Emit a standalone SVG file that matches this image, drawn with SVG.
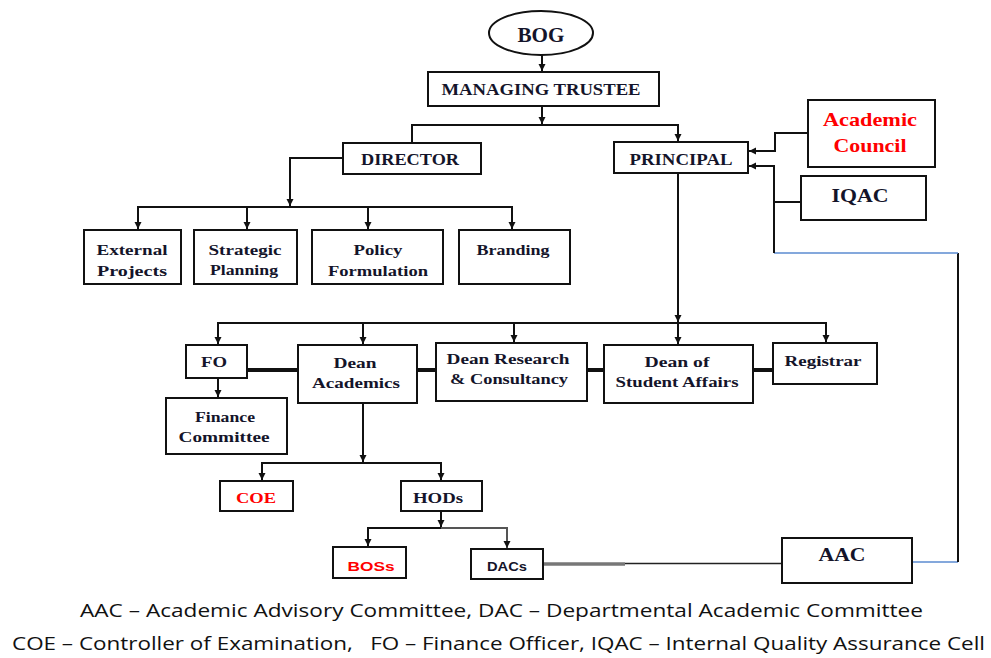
<svg xmlns="http://www.w3.org/2000/svg" width="991" height="658" viewBox="0 0 991 658">
<defs>
<marker id="arr" markerUnits="userSpaceOnUse" markerWidth="8" markerHeight="8" refX="7" refY="4" orient="auto">
<path d="M0,0.5 L7,4 L0,7.5 Z" fill="#111"/>
</marker>
<style>
.box{fill:#fff;stroke:#111;stroke-width:2}
.t{font-family:"Liberation Serif","Times New Roman",serif;font-weight:bold;fill:#14142a;text-anchor:middle}
.red{fill:#ff0000}
.s{font-family:"Liberation Sans",Arial,sans-serif;font-weight:bold;text-anchor:middle}
.ln{fill:none;stroke:#111;stroke-width:2}
.thick{fill:none;stroke:#111;stroke-width:4}
.lg{font-family:"Open Sans","Liberation Sans",sans-serif;fill:#111;font-size:18px;text-anchor:start}
</style>
</defs>
<rect width="991" height="658" fill="#fff"/>

<g id="connectors">
<path class="ln" d="M542,55 V71" marker-end="url(#arr)"/>
<path class="ln" d="M542,106 V124" marker-end="url(#arr)"/>
<path class="ln" d="M412,143 V125 H678 V141" marker-end="url(#arr)"/>
<path class="ln" d="M343,158 H290 V206" marker-end="url(#arr)"/>
<path class="ln" d="M138,229 V207 H512 V229" marker-end="url(#arr)"/>
<path class="ln" d="M138,207 V229" marker-end="url(#arr)"/>
<path class="ln" d="M247,207 V229" marker-end="url(#arr)"/>
<path class="ln" d="M368,207 V229" marker-end="url(#arr)"/>
<path class="ln" d="M678,173 V322" marker-end="url(#arr)"/>
<path class="ln" d="M218,344 V323 H826 V342" marker-end="url(#arr)"/>
<path class="ln" d="M218,323 V344" marker-end="url(#arr)"/>
<path class="ln" d="M363,323 V344" marker-end="url(#arr)"/>
<path class="ln" d="M514,323 V342" marker-end="url(#arr)"/>
<path class="ln" d="M678,323 V344" marker-end="url(#arr)"/>
<path class="thick" d="M247,370 H298 M417,370 H436 M587,370 H604 M753,370 H773"/>
<path class="ln" d="M218,378 V397" marker-end="url(#arr)"/>
<path class="ln" d="M363,403 V462" marker-end="url(#arr)"/>
<path class="ln" d="M262,480 V463 H441 V480" marker-end="url(#arr)"/>
<path class="ln" d="M262,463 V480" marker-end="url(#arr)"/>
<path class="ln" d="M441,511 V527" marker-end="url(#arr)"/>
<path class="ln" d="M441,528 H368 V546" marker-end="url(#arr)"/>
<path fill="none" stroke="#555" stroke-width="2" d="M441,528 H507 V548" marker-end="url(#arr)"/>
<path fill="none" stroke="#777" stroke-width="3.5" d="M543,564 H625"/>
<path fill="none" stroke="#222" stroke-width="1.5" d="M625,563.5 H782"/>
<path fill="none" stroke="#5b8bd0" stroke-width="1.5" d="M912,562 H958"/>
<path class="ln" d="M958,562 V253"/>
<path fill="none" stroke="#5b8bd0" stroke-width="1.5" d="M958,253 H774"/>
<path class="ln" d="M774,253 V166 H749" marker-end="url(#arr)"/>
<path class="ln" d="M801,202 H774"/>
<path class="ln" d="M808,133 H775 V151 H749" marker-end="url(#arr)"/>
</g>

<g id="bog"><ellipse cx="541" cy="33" rx="52" ry="22" fill="#fff" stroke="#111" stroke-width="2"/><text class="t" x="541" y="42" font-size="21" textLength="47" lengthAdjust="spacingAndGlyphs">BOG</text></g>
<g id="managing-trustee"><rect class="box" x="428" y="72" width="231" height="34"/><text class="t" x="541" y="95" font-size="17" textLength="199" lengthAdjust="spacingAndGlyphs">MANAGING TRUSTEE</text></g>
<g id="director"><rect class="box" x="343" y="143" width="138" height="31"/><text class="t" x="410" y="165" font-size="17" textLength="98" lengthAdjust="spacingAndGlyphs">DIRECTOR</text></g>
<g id="principal"><rect class="box" x="614" y="142" width="134" height="31"/><text class="t" x="681" y="165" font-size="17" textLength="103" lengthAdjust="spacingAndGlyphs">PRINCIPAL</text></g>
<g id="academic-council"><rect class="box" x="808" y="100" width="127" height="67"/><text class="t red" x="870" y="126" font-size="19" textLength="94" lengthAdjust="spacingAndGlyphs">Academic</text><text class="t red" x="870" y="152" font-size="19" textLength="73" lengthAdjust="spacingAndGlyphs">Council</text></g>
<g id="iqac"><rect class="box" x="801" y="176" width="125" height="44"/><text class="t" x="860" y="202" font-size="19" textLength="57" lengthAdjust="spacingAndGlyphs">IQAC</text></g>

<g id="external-projects"><rect class="box" x="84" y="230" width="97" height="54"/><text class="t" x="132" y="255" font-size="15" textLength="71" lengthAdjust="spacingAndGlyphs">External</text><text class="t" x="132" y="276" font-size="15" textLength="70" lengthAdjust="spacingAndGlyphs">Projects</text></g>
<g id="strategic-planning"><rect class="box" x="194" y="230" width="103" height="54"/><text class="t" x="245" y="255" font-size="15" textLength="73" lengthAdjust="spacingAndGlyphs">Strategic</text><text class="t" x="244" y="275" font-size="15" textLength="68" lengthAdjust="spacingAndGlyphs">Planning</text></g>
<g id="policy-formulation"><rect class="box" x="312" y="230" width="131" height="54"/><text class="t" x="378" y="255" font-size="15" textLength="49" lengthAdjust="spacingAndGlyphs">Policy</text><text class="t" x="378" y="276" font-size="15" textLength="100" lengthAdjust="spacingAndGlyphs">Formulation</text></g>
<g id="branding"><rect class="box" x="459" y="230" width="111" height="54"/><text class="t" x="513" y="255" font-size="15" textLength="73" lengthAdjust="spacingAndGlyphs">Branding</text></g>

<g id="fo"><rect class="box" x="186" y="345" width="61" height="33"/><text class="t" x="214" y="367" font-size="15" textLength="26" lengthAdjust="spacingAndGlyphs">FO</text></g>
<g id="dean-academics"><rect class="box" x="298" y="345" width="119" height="58"/><text class="t" x="355" y="368" font-size="15" textLength="43" lengthAdjust="spacingAndGlyphs">Dean</text><text class="t" x="356" y="388" font-size="15" textLength="88" lengthAdjust="spacingAndGlyphs">Academics</text></g>
<g id="dean-research"><rect class="box" x="436" y="343" width="151" height="58"/><text class="t" x="508" y="364" font-size="15" textLength="123" lengthAdjust="spacingAndGlyphs">Dean Research</text><text class="t" x="509" y="384" font-size="15" textLength="118" lengthAdjust="spacingAndGlyphs">&amp; Consultancy</text></g>
<g id="dean-student-affairs"><rect class="box" x="604" y="345" width="149" height="58"/><text class="t" x="677" y="367" font-size="15" textLength="65" lengthAdjust="spacingAndGlyphs">Dean of</text><text class="t" x="677" y="387" font-size="15" textLength="123" lengthAdjust="spacingAndGlyphs">Student Affairs</text></g>
<g id="registrar"><rect class="box" x="773" y="343" width="104" height="41"/><text class="t" x="823" y="366" font-size="15" textLength="77" lengthAdjust="spacingAndGlyphs">Registrar</text></g>
<g id="finance-committee"><rect class="box" x="166" y="398" width="121" height="56"/><text class="t" x="225" y="422" font-size="15" textLength="60" lengthAdjust="spacingAndGlyphs">Finance</text><text class="t" x="224" y="442" font-size="15" textLength="91" lengthAdjust="spacingAndGlyphs">Committee</text></g>

<g id="coe"><rect class="box" x="220" y="481" width="73" height="30"/><text class="t red" x="256" y="503" font-size="15" textLength="40" lengthAdjust="spacingAndGlyphs">COE</text></g>
<g id="hods"><rect class="box" x="401" y="481" width="81" height="30"/><text class="t" x="438" y="503" font-size="15" textLength="50" lengthAdjust="spacingAndGlyphs">HODs</text></g>
<g id="boss"><rect class="box" x="333" y="547" width="73" height="31"/><text class="s" x="371" y="571" font-size="12" fill="#ff0000" textLength="47" lengthAdjust="spacingAndGlyphs">BOSs</text></g>
<g id="dacs"><rect class="box" x="471" y="549" width="72" height="30"/><text class="s" x="507" y="571" font-size="13" fill="#14142a" textLength="40" lengthAdjust="spacingAndGlyphs">DACs</text></g>
<g id="aac"><rect class="box" x="782" y="538" width="130" height="45"/><text class="t" x="842" y="561" font-size="18" textLength="47" lengthAdjust="spacingAndGlyphs">AAC</text></g>

<g id="legend">
<text class="lg" x="80" y="617" textLength="843" lengthAdjust="spacingAndGlyphs">AAC – Academic Advisory Committee, DAC – Departmental Academic Committee</text>
<text class="lg" x="12" y="650" xml:space="preserve" textLength="973" lengthAdjust="spacingAndGlyphs">COE – Controller of Examination,   FO – Finance Officer, IQAC – Internal Quality Assurance Cell</text>
</g>
</svg>
